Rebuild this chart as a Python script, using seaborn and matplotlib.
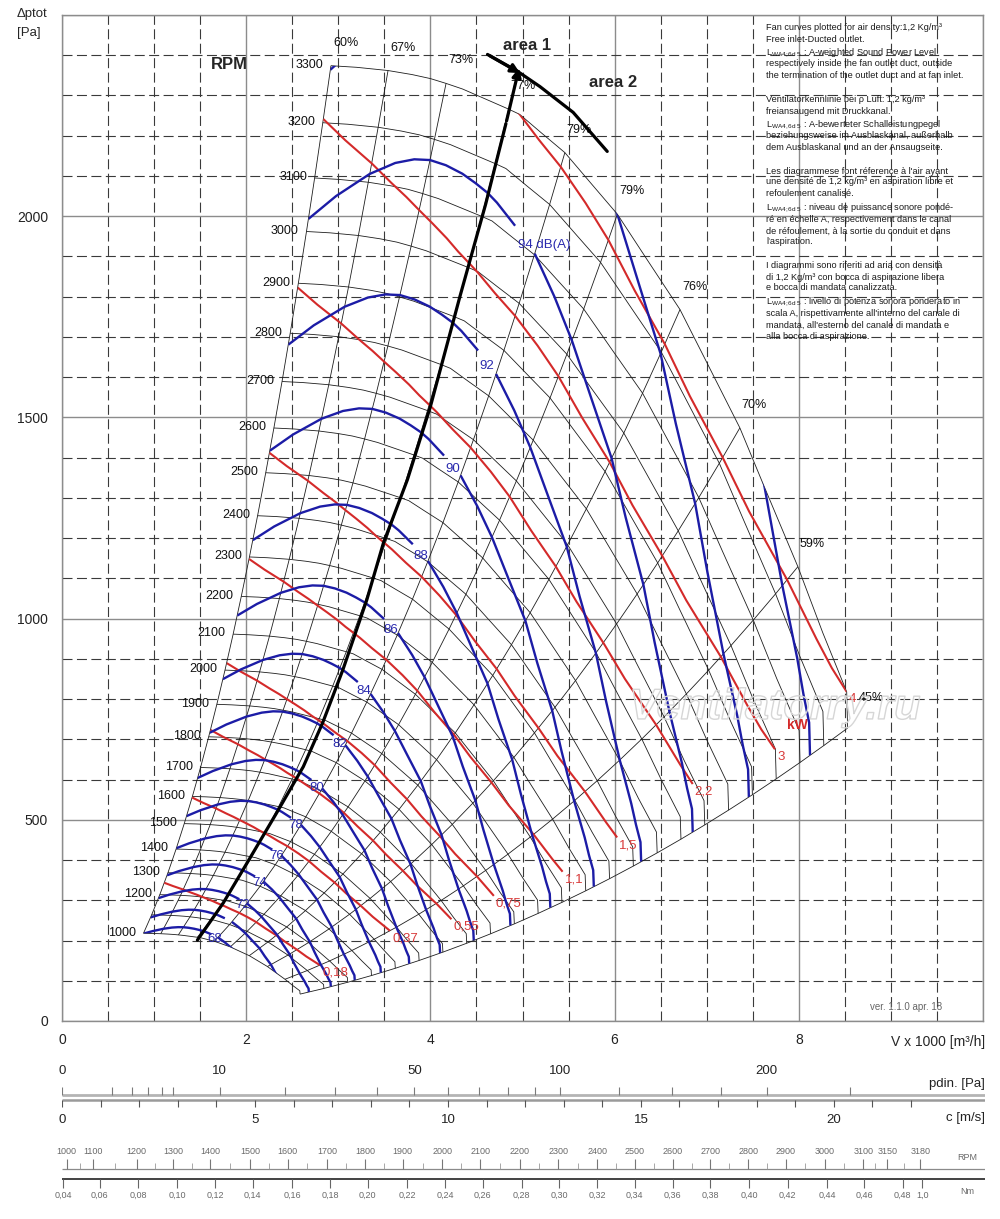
import numpy as np
import pandas as pd
import matplotlib
matplotlib.use("Agg")
import matplotlib.pyplot as plt
import matplotlib.patheffects as pe
from matplotlib.patches import Polygon
import seaborn as sns

# ---- values -------------------------------------------------------------
# outer fan curve at 3300 RPM: flow [x1000 m3/h] and total pressure [Pa]
q_base = [2.92, 3.2, 3.54, 3.8, 4.0, 4.17, 4.35, 4.54, 4.7, 4.85, 4.97, 5.2,
          5.46, 5.75, 6.03, 6.35, 6.71, 7.0, 7.36, 7.63, 7.99, 8.26, 8.4, 8.52, 8.53]
p_base = [2374, 2370, 2362, 2352, 2342, 2330, 2316, 2297, 2281, 2266, 2253, 2208,
          2158, 2080, 2005, 1893, 1768, 1637, 1474, 1325, 1129, 965, 886, 818, 728]
# A-weighted sound power along that curve at 3300 RPM [dB(A)]
lw_base = [96.05, 95.7, 95.35, 95.15, 95.05, 95.0, 95.0, 95.02, 95.07, 95.13, 95.2, 95.3,
           95.45, 95.7, 96.0, 96.35, 96.75, 97.15, 97.6, 98.0, 98.5, 98.8, 99.0, 99.15, 99.15]
# absorbed power along that curve at 3300 RPM [kW]
kw_base = [3.27, 3.38, 3.5, 3.6, 3.67, 3.73, 3.79, 3.85, 3.91, 3.96, 4.0, 4.05,
           4.1, 4.14, 4.2, 4.26, 4.31, 4.33, 4.32, 4.28, 4.18, 4.1, 4.06, 4.0, 4.0]
sound_per_decade = 54.0   # dB per decade of speed, from spacing of the dB lines

n_top = 3300
rpm = list(range(1000, 3301, 100))
rpm_labelled = [n for n in rpm if n != 1100]

eff_q = [2.92, 3.54, 4.17, 4.85, 5.46, 6.03, 6.71, 7.36, 7.99, 8.53]
eff_labels = ["60%", "67%", "73%", "77%", "79%", "79%", "76%", "70%", "59%", "45%"]

db_levels = list(range(68, 99, 2))
db_labelled = [68, 72, 74, 76, 78, 80, 82, 84, 86, 88, 90, 92, 94]

kw_levels = [0.18, 0.37, 0.55, 0.75, 1.1, 1.5, 2.2, 3, 4]
kw_labels = ["0,18", "0,37", "0,55", "0,75", "1,1", "1,5", "2,2", "3", "4"]
kw_end_q = [7.99, 7.99, 8.26, 8.26, 8.4, 8.4, 8.4, 8.52, 8.52]

# thick border between area 1 and area 2
area_q = [1.47, 1.75, 2.01, 2.33, 2.62, 2.83, 3.05, 3.31, 3.49, 3.75, 4.0, 4.32, 4.6, 4.82]
area_p = [201, 293, 393, 517, 632, 741, 873, 1047, 1188, 1345, 1527, 1800, 2030, 2230]
split_q = [4.62, 4.94, 5.19, 5.55, 5.92]
split_p = [2402, 2361, 2322, 2258, 2161]

# bottom scales
outlet_area = 0.1164        # m2, from the c scale
air_density = 1.2
pdin_ticks = [0, 1, 2, 3, 4, 5, 10, 20, 30, 40, 50, 60, 70, 80, 90, 100, 125, 150, 175, 200, 250]
pdin_labels = [0, 10, 50, 100, 200]
c_ticks = list(range(0, 23))
c_labels = [0, 5, 10, 15, 20]
rpm_row_values = ["1000", "1100", "1200", "1300", "1400", "1500", "1600", "1700", "1800",
                  "1900", "2000", "2100", "2200", "2300", "2400", "2500", "2600", "2700",
                  "2800", "2900", "3000", "3100", "3150", "3180"]
rpm_row_pos = [0.05, 0.34, 0.81, 1.21, 1.61, 2.04, 2.45, 2.88, 3.29, 3.70, 4.13, 4.54,
               4.97, 5.39, 5.81, 6.22, 6.63, 7.04, 7.45, 7.86, 8.28, 8.70, 8.96, 9.32]
nm_row_values = ["0,04", "0,06", "0,08", "0,10", "0,12", "0,14", "0,16", "0,18", "0,20",
                 "0,22", "0,24", "0,26", "0,28", "0,30", "0,32", "0,34", "0,36", "0,38",
                 "0,40", "0,42", "0,44", "0,46", "0,48", "1,0"]
nm_row_pos = [0.01, 0.41, 0.83, 1.25, 1.66, 2.07, 2.50, 2.91, 3.32, 3.75, 4.16, 4.57,
              4.99, 5.40, 5.81, 6.22, 6.63, 7.04, 7.46, 7.88, 8.31, 8.71, 9.13, 9.34]

LW = "L$_{\\rm WA4;6d\\ 5}$"
LW2 = "L$_{\\rm WA4,6d\\ 5}$"
note_lines = [
    (28, "Fan curves plotted for air density:1,2 Kg/m³"),
    (39, "Free inlet-Ducted outlet."),
    (53, LW + " : A-weighted Sound Power Level"),
    (64, "respectively inside the fan outlet duct, outside"),
    (76, "the termination of the outlet duct and at fan inlet."),
    (99, "Ventilatorkennlinie bei ρ Luft: 1,2 kg/m³"),
    (111, "freiansaugend mit Druckkanal."),
    (125, LW2 + " : A-bewerteter Schalleistungpegel"),
    (136, "beziehungsweise im Ausblaskanal, außerhalb"),
    (148, "dem Ausblaskanal und an der Ansaugseite."),
    (171, "Les diagrammese font réference à l'air ayant"),
    (182, "une densité de 1,2 kg/m³ en aspiration libre et"),
    (194, "refoulement canalisé."),
    (208, LW + " : niveau de puissance sonore pondé-"),
    (219, "ré en échelle A, respectivement dans le canal"),
    (231, "de réfoulement, à la sortie du conduit et dans"),
    (242, "l'aspiration."),
    (266, "I diagrammi sono riferiti ad aria con densità"),
    (277, "di 1,2 Kg/m³ con bocca di aspirazione libera"),
    (288, "e bocca di mandata canalizzata."),
    (302, LW + " : livello di potenza sonora ponderato in"),
    (314, "scala A, rispettivamente all'interno del canale di"),
    (325, "mandata, all'esterno del canale di mandata e"),
    (337, "alla bocca di aspirazione."),
]

# ---- build the line families --------------------------------------------
qb = np.array(q_base)
pb = np.array(p_base, dtype=float)
lw = np.array(lw_base)
kw = np.array(kw_base)
s_rpm = np.array(rpm) / n_top


def frame(parts):
    rows = []
    for name, Q, P in parts:
        rows += [(name, a, b) for a, b in zip(Q, P)]
    return pd.DataFrame(rows, columns=["line", "Q", "p"])


rpm_df = frame([(n, qb * s, pb * s * s) for n, s in zip(rpm, s_rpm)])

eff_parts = []
for lab, q in zip(eff_labels, eff_q):
    i = q_base.index(q)
    eff_parts.append((f"{lab}{q}", q_base[i] * s_rpm, p_base[i] * s_rpm ** 2))
eff_df = frame(eff_parts)

db_parts, db_marks = [], {}
for L in db_levels:
    s = 10 ** ((L - lw) / sound_per_decade)
    Q, P = qb * s, pb * s * s
    a, b = qb <= 5.2, qb >= 5.46
    db_parts.append((f"{L}a", Q[a], P[a]))
    db_parts.append((f"{L}b", Q[b], P[b]))
    ia, ib = np.where(a)[0][-1], np.where(b)[0][0]
    db_marks[L] = ((Q[ia] + Q[ib]) / 2, (P[ia] + P[ib]) / 2)
db_df = frame(db_parts)

kw_parts, kw_marks = [], []
for P_kw, qe in zip(kw_levels, kw_end_q):
    s = (P_kw / kw) ** (1 / 3)
    m = qb <= qe
    Q, P = qb[m] * s[m], pb[m] * s[m] ** 2
    kw_parts.append((str(P_kw), Q, P))
    kw_marks.append((Q[-1], P[-1]))
kw_df = frame(kw_parts)

# ---- figure ------------------------------------------------------------------
sns.set_theme(style="white")
plt.rcParams["font.family"] = ["Liberation Sans", "DejaVu Sans"]
plt.rcParams["mathtext.fontset"] = "custom"
plt.rcParams["mathtext.rm"] = "Liberation Sans"
plt.rcParams["mathtext.it"] = "Liberation Sans:italic"

W, H = 1000, 1219
fig = plt.figure(figsize=(W / 100, H / 100), dpi=100)
ax = fig.add_axes([62 / W, 1 - 1021 / H, 921 / W, 1006 / H])
ax.set_xlim(0, 10)
ax.set_ylim(0, 2500)

# grid
ax.set_xticks(np.arange(0, 10.01, 2))
ax.set_xticklabels(["0", "2", "4", "6", "8", ""])
ax.set_xticks(np.arange(0, 10.01, 0.5), minor=True)
ax.set_yticks(np.arange(0, 2501, 500))
ax.set_yticklabels(["0", "500", "1000", "1500", "2000", ""])
ax.set_yticks(np.arange(0, 2501, 100), minor=True)
ax.grid(which="major", color="#8c8c8c", lw=1.0, ls="-")
ax.grid(which="minor", color="#3a3a3a", lw=0.8, ls=(0, (9, 4)))
ax.set_axisbelow(True)
ax.tick_params(which="both", length=0, labelsize=10, colors="#222222")
ax.tick_params(axis="x", pad=9)
ax.tick_params(axis="y", pad=10)
for sp in ax.spines.values():
    sp.set_color("#8c8c8c")
    sp.set_linewidth(1.0)

clip = Polygon(np.vstack([
    np.column_stack([qb, pb]),
    np.column_stack([qb[-1] * s_rpm[::-1], pb[-1] * s_rpm[::-1] ** 2]),
    np.column_stack([qb[::-1] * s_rpm[0], pb[::-1] * s_rpm[0] ** 2]),
    np.column_stack([qb[0] * s_rpm, pb[0] * s_rpm ** 2]),
]), closed=True, transform=ax.transData, fc="none", ec="none")


def draw_family(df, color, width, z, clipped=False):
    n0 = len(ax.lines)
    sns.lineplot(data=df, x="Q", y="p", units="line", estimator=None, sort=False,
                 color=color, lw=width, ax=ax, legend=False)
    for ln in ax.lines[n0:]:
        ln.set_zorder(z)
        ln.set_solid_capstyle("butt")
        if clipped:
            ln.set_clip_path(clip)


draw_family(rpm_df, "#1e1e1e", 0.6, 2)
draw_family(eff_df, "#1e1e1e", 0.6, 2)
draw_family(kw_df, "#d42a2a", 1.5, 3, clipped=True)
draw_family(db_df, "#1c1ca6", 1.7, 3.5, clipped=True)
ax.set_xlabel("")
ax.set_ylabel("")

# area border with arrows
sns.lineplot(x=area_q, y=area_p, sort=False, color="black", lw=2.3, ax=ax, zorder=4)
sns.lineplot(x=split_q, y=split_p, sort=False, color="black", lw=2.3, ax=ax, zorder=4)
ax.annotate("", xy=(4.97, 2375), xytext=(area_q[-1], area_p[-1]),
            arrowprops=dict(arrowstyle="-|>", color="black", lw=2.3, mutation_scale=13), zorder=5)
ax.annotate("", xy=(5.0, 2352), xytext=(split_q[0], split_p[0]),
            arrowprops=dict(arrowstyle="-|>", color="black", lw=2.3, mutation_scale=13), zorder=5)

# labels on the curves
for n in rpm_labelled:
    s = n / n_top
    ax.annotate(str(n), (q_base[0] * s, p_base[0] * s * s), xytext=(-5.5, 0.5),
                textcoords="offset points", ha="right", va="center", fontsize=9, color="#111")
for lab, q in zip(eff_labels, eff_q):
    i = q_base.index(q)
    off = (17, 21.5) if lab == "45%" else (10.5, 16.5)
    ax.annotate(lab, (q_base[i], p_base[i]), xytext=off, textcoords="offset points",
                ha="center", va="center", fontsize=9, color="#111")
for L in db_labelled:
    x, y = db_marks[L]
    if L == 94:
        ax.annotate("94 dB(A)", (x, y), xytext=(-5, -4), textcoords="offset points",
                    ha="left", va="center", fontsize=9.5, color="#2a2aae", zorder=6)
    else:
        ax.annotate(str(L), (x, y), xytext=(0, -2.5), textcoords="offset points",
                    ha="center", va="center", fontsize=9.5, color="#2a2aae", zorder=6)
for lab, (x, y) in zip(kw_labels, kw_marks):
    ax.annotate(lab, (x, y), xytext=(1.5, -5.5), textcoords="offset points",
                ha="left", va="center", fontsize=9.5, color="#d83a3a", zorder=6)
ax.text(7.98, 736, "kW", color="#d42a2a", fontsize=10, fontweight="bold", ha="center", va="center")

ax.text(1.82, 2377, "RPM", fontsize=12, fontweight="bold", ha="center", va="center")
ax.text(5.05, 2424, "area 1", fontsize=12, fontweight="bold", ha="center", va="center")
ax.text(5.98, 2332, "area 2", fontsize=12, fontweight="bold", ha="center", va="center")

# faint watermark, as in the source image
ax.text(7.74, 778, "Ventilatorry.ru", fontsize=31, style="italic", fontweight="bold",
        color=(1, 1, 1, 0.0), ha="center", va="center", zorder=7,
        path_effects=[pe.withStroke(linewidth=1.0, foreground="#d6d6d6")])

fig.text(17 / W, 1 - 14 / H, "Δptot", fontsize=9.5, ha="left", va="center")
fig.text(17 / W, 1 - 33 / H, "[Pa]", fontsize=9.5, ha="left", va="center")
fig.text(985 / W, 1 - 1042 / H, "V x 1000 [m³/h]", fontsize=10, ha="right", va="center")
fig.text(870 / W, 1 - 1007 / H, "ver. 1.1.0 apr. 18", fontsize=7, color="#666666",
         ha="left", va="center")

for y, line in note_lines:
    fig.text(766 / W, 1 - y / H, line, fontsize=6.6, color="#1a1a1a", ha="left", va="center",
             family=["Liberation Sans Narrow", "Liberation Sans", "DejaVu Sans"])

# ---- bottom scales -------------------------------------------------------
bx = fig.add_axes([62 / W, 0, 923 / W, (H - 1030) / H])
bx.set_xlim(0, 923 / 92.1)
bx.set_ylim(H, 1030)
bx.axis("off")
xmax = 923 / 92.1


def flow_of_speed(c):
    return np.asarray(c, dtype=float) * outlet_area * 3.6


def flow_of_pdin(pd_):
    return flow_of_speed(np.sqrt(2 * np.asarray(pd_, dtype=float) / air_density))


bx.hlines(1095, 0, xmax, color="#b4b4b4", lw=2.0)
bx.vlines(flow_of_pdin(pdin_ticks), 1087, 1095, color="#7a7a7a", lw=0.8)
for v in pdin_labels:
    bx.text(flow_of_pdin(v), 1071, str(v), fontsize=9.5, ha="center", va="center", color="#222")
bx.text(xmax, 1084, "pdin. [Pa]", fontsize=9.5, ha="right", va="center", color="#222")

bx.hlines(1100, 0, xmax, color="#9a9a9a", lw=1.8)
bx.vlines(flow_of_speed(c_ticks), 1100, 1107, color="#555", lw=0.8)
for v in c_labels:
    bx.text(flow_of_speed(v), 1120, str(v), fontsize=9.5, ha="center", va="center", color="#222")
bx.text(xmax, 1118, "c [m/s]", fontsize=9.5, ha="right", va="center", color="#222")

rp = np.array(rpm_row_pos)
bx.hlines(1169, 0, xmax, color="#8a8a8a", lw=0.9)
bx.vlines(rp, 1159, 1169, color="#777", lw=0.8)
bx.vlines((rp[:-1] + rp[1:]) / 2, 1163, 1169, color="#999", lw=0.6)
for lab, x in zip(rpm_row_values, rp):
    bx.text(x, 1152, lab, fontsize=6.5, ha="center", va="center", color="#6a6a6a")
bx.text(xmax - 0.08, 1157, "RPM", fontsize=6.5, ha="right", va="center", color="#6a6a6a")

npos = np.array(nm_row_pos)
bx.hlines(1179, 0, xmax, color="#222", lw=1.2)
bx.vlines(npos, 1179, 1188, color="#666", lw=0.8)
for lab, x in zip(nm_row_values, npos):
    bx.text(x, 1195, lab, fontsize=6.5, ha="center", va="center", color="#6a6a6a")
bx.text(xmax - 0.12, 1191, "Nm", fontsize=6.5, ha="right", va="center", color="#6a6a6a")

fig.savefig("out.png", dpi=100)
